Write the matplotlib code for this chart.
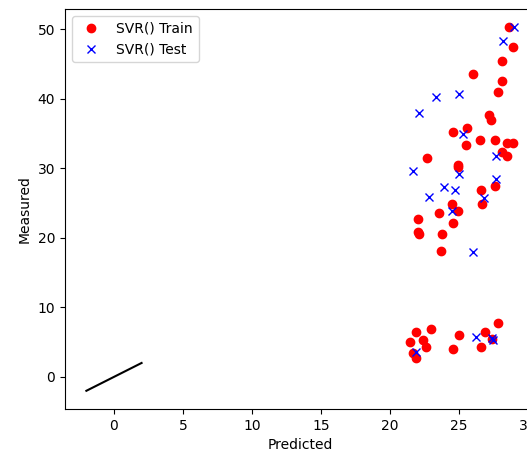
import matplotlib
matplotlib.use("Agg")
import matplotlib.pyplot as plt

# SVR predictions vs measured values
train_pred = [28.6, 28.9, 28.1, 26.0, 28.1, 27.8, 27.2, 27.3, 25.55, 24.6,
              25.5, 26.5, 27.6, 28.5, 28.9, 28.1, 28.5, 22.7, 24.9, 24.9,
              27.6, 26.6, 26.7, 24.5, 24.9, 23.55, 22.05, 24.6, 22.0, 22.1,
              23.8, 23.7,
              23.0, 21.9, 21.45, 22.4, 22.6, 21.7, 21.9, 25.0, 24.6, 26.9,
              26.6, 27.8, 27.4]
train_meas = [50.3, 47.4, 45.4, 43.6, 42.5, 40.9, 37.6, 36.9, 35.8, 35.2,
              33.4, 34.0, 34.1, 33.7, 33.7, 32.4, 31.7, 31.5, 30.5, 30.2,
              27.4, 26.9, 24.8, 24.8, 23.8, 23.5, 22.7, 22.2, 20.8, 20.5,
              20.5, 18.1,
              6.9, 6.4, 5.0, 5.3, 4.3, 3.5, 2.7, 6.0, 4.05, 6.4,
              4.3, 7.7, 5.5]

test_pred = [29.0, 28.2, 23.3, 25.0, 22.1, 25.3, 27.7, 25.0, 21.7, 27.7,
             23.9, 24.7, 22.85, 26.8, 24.5, 26.0, 21.9, 26.2, 27.4, 27.45]
test_meas = [50.3, 48.3, 40.3, 40.7, 37.9, 35.0, 31.7, 29.2, 29.6, 28.5,
             27.3, 26.9, 25.9, 25.7, 23.8, 18.0, 3.6, 5.8, 5.6, 5.3]

line_x = [-2, 2]
line_y = [-2, 2]

fig = plt.figure(figsize=(5.27, 4.59), dpi=100)
ax = fig.add_axes([0.1233, 0.109, 0.893, 0.8715])

ax.plot(train_pred, train_meas, 'ro', label='SVR() Train')
ax.plot(test_pred, test_meas, 'bx', label='SVR() Test')
ax.plot(line_x, line_y, 'k-')

ax.set_xlabel('Predicted')
ax.set_ylabel('Measured')
ax.legend(loc='upper left')

fig.savefig('out.png', dpi=100)
